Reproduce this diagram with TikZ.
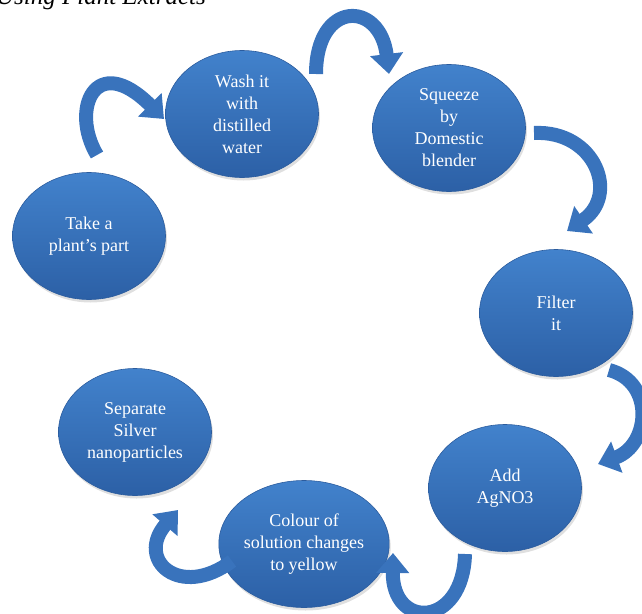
\documentclass[tikz,border=0pt]{standalone}
\usepackage{fontspec}
\setmainfont{Liberation Serif}
\usetikzlibrary{arrows.meta,shadows,shapes.geometric}
\definecolor{stagetop}{HTML}{4282CC}
\definecolor{stagebot}{HTML}{2C60A6}
\definecolor{stageedge}{HTML}{2B5C9E}
\definecolor{flowblue}{HTML}{3973BC}
\begin{document}
\begin{tikzpicture}[x=1pt,y=-1pt,
  stage/.style={ellipse, minimum width=153pt, minimum height=127pt, inner sep=0pt,
    top color=stagetop, bottom color=stagebot, draw=stageedge, line width=0.6pt,
    drop shadow={opacity=0.25, shadow xshift=1.5pt, shadow yshift=-3pt},
    text=white, align=center, font=\fontsize{18}{22}\selectfont},
  flow/.style={line width=14pt, draw=flowblue, line cap=butt,
    -{Triangle[width=32pt,length=20pt]}}]
\useasboundingbox (0,0) rectangle (642,613);

% caption line above the cycle
\node[anchor=base east, font=\fontsize{25}{28}\selectfont\itshape, inner sep=0pt] (title) at (206,5) {Using Plant Extracts};

% the seven stages
\node[stage] (take)  at (89,236)  {Take a\\plant's part};
\node[stage] (wash)  at (242,114) {Wash it\\with\\distilled\\water};
\node[stage] (squeeze) at (449,128) {Squeeze\\by\\Domestic\\blender};
\node[stage] (filter) at (556,313) {Filter\\it};
\node[stage] (add)   at (505,488) {Add\\AgNO3};
\node[stage] (colour) at (304,544) {Colour of\\solution changes\\to yellow};
\node[stage] (separate) at (135,432) {Separate\\Silver\\nanoparticles};

% curved arrow ends
\coordinate (a1) at (97,155);  \coordinate (a2) at (164,119);
\coordinate (b1) at (316,74);  \coordinate (b2) at (389,74);
\coordinate (c1) at (534,133); \coordinate (c2) at (567,231);
\coordinate (d1) at (609,370); \coordinate (d2) at (598,464);
\coordinate (e1) at (465,554); \coordinate (e2) at (393,553);
\coordinate (f1) at (232,561); \coordinate (f2) at (178,510);

% curved block arrows between stages
\draw[flow] (a1) .. controls (70,110) and (95,50) .. (a2);
\draw[flow] (b1) .. controls (316,0) and (380,0) .. (b2);
\draw[flow] (c1) .. controls (595,130) and (620,195) .. (c2);
\draw[flow] (d1) .. controls (655,382) and (650,445) .. (d2);
\draw[flow] (e1) .. controls (463,628) and (392,630) .. (e2);
\draw[flow] (f1) .. controls (180,600) and (135,560) .. (f2);
\end{tikzpicture}
\end{document}
